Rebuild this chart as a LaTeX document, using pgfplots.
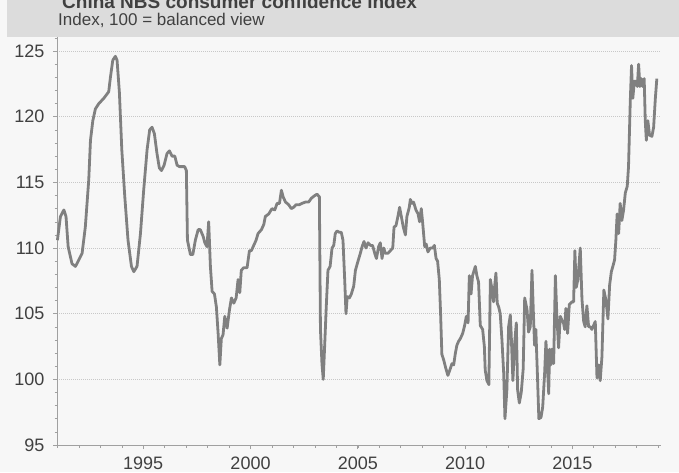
\documentclass[border=0pt]{standalone}
\usepackage{pgfplots}
\pgfplotsset{compat=1.18}
\usepackage{fontspec}
\setmainfont{Liberation Sans}
\definecolor{bgc}{RGB}{247,247,247}
\definecolor{bandc}{RGB}{220,220,220}
\definecolor{linec}{RGB}{128,128,128}
\definecolor{txtc}{RGB}{64,64,64}
\definecolor{gridc}{RGB}{200,200,200}
\definecolor{spinec}{RGB}{160,160,160}
\begin{document}
\begin{tikzpicture}[x=1pt,y=1pt]
\useasboundingbox (0,0) rectangle (679,472);
\clip (0,0) rectangle (679,472);
\fill[bgc] (0,0) rectangle (679,472);
\fill[bandc] (7,435) rectangle (679,472);
\node[anchor=base west, font=\fontsize{19}{22}\selectfont\bfseries, text=txtc, inner sep=0pt] at (62,463) {China NBS consumer confidence index};
\node[anchor=base west, font=\fontsize{17}{20}\selectfont, text=txtc, inner sep=0pt] at (58,446) {Index, 100 = balanced view};
\begin{axis}[
  at={(57pt,27pt)}, anchor=south west,
  scale only axis, width=603.7pt, height=408pt,
  xmin=1990.98, xmax=2019.12, ymin=95, ymax=126.07,
  axis lines*=left,
  axis line style={spinec, line width=0.8pt},
  xtick={1995,2000,2005,2010,2015},
  minor xtick={1991,1992,...,2019},
  ytick={95,100,...,125},
  minor ytick={95,96,...,126},
  tick align=outside,
  major tick length=4pt, minor tick length=2.5pt,
  tick style={spinec, line width=0.6pt},
  minor tick style={spinec, line width=0.5pt},
  ymajorgrids,
  major grid style={gridc, line width=0.8pt, dash pattern=on 0.8pt off 1.2pt},
  xticklabel style={/pgf/number format/1000 sep={}},
  /pgf/number format/assume math mode=true,
  ticklabel style={font=\fontsize{18}{20}\selectfont, text=txtc},
  xticklabel style={yshift=-4pt},
  yticklabel style={xshift=-5pt},
  clip=false,
]
\addplot[linec, line width=2.8pt, line join=round] table {
x y
1991.00 110.6
1991.14 112.4
1991.30 112.9
1991.40 112.4
1991.50 110.1
1991.68 108.8
1991.84 108.6
1992.00 109.1
1992.15 109.6
1992.30 111.6
1992.46 115.2
1992.54 118.2
1992.65 119.7
1992.77 120.6
1992.93 121.0
1993.16 121.4
1993.39 121.9
1993.47 123.0
1993.58 124.3
1993.70 124.6
1993.78 124.3
1993.89 121.8
1994.00 117.5
1994.14 113.9
1994.29 110.6
1994.45 108.6
1994.56 108.2
1994.71 108.6
1994.87 111.1
1995.02 114.4
1995.18 117.5
1995.30 119.0
1995.41 119.2
1995.52 118.7
1995.64 117.2
1995.75 116.1
1995.85 115.9
1995.97 116.3
1996.11 117.2
1996.22 117.4
1996.34 117.0
1996.47 117.0
1996.58 116.3
1996.69 116.2
1996.93 116.2
1997.01 115.9
1997.06 110.6
1997.20 109.5
1997.31 109.5
1997.43 110.6
1997.56 111.4
1997.66 111.4
1997.79 110.9
1997.87 110.4
1997.97 110.1
1998.05 112.0
1998.13 108.6
1998.21 106.7
1998.32 106.5
1998.41 105.5
1998.49 103.5
1998.57 101.1
1998.64 103.1
1998.72 103.4
1998.80 104.8
1998.91 103.9
1999.02 105.3
1999.11 106.2
1999.22 105.8
1999.33 106.2
1999.42 107.6
1999.50 106.6
1999.57 108.3
1999.68 108.5
1999.84 108.5
1999.95 109.8
2000.04 109.8
2000.15 110.2
2000.26 110.6
2000.35 111.1
2000.51 111.4
2000.62 111.8
2000.69 112.4
2000.85 112.6
2001.00 113.0
2001.13 112.9
2001.24 113.4
2001.35 113.4
2001.44 114.4
2001.52 113.9
2001.63 113.5
2001.78 113.3
2001.90 113.0
2002.01 113.1
2002.12 113.3
2002.28 113.3
2002.40 113.4
2002.56 113.5
2002.71 113.5
2002.84 113.8
2003.00 114.0
2003.10 114.1
2003.21 113.9
2003.26 103.8
2003.33 101.2
2003.39 100.0
2003.46 102.7
2003.53 105.5
2003.61 108.3
2003.71 108.6
2003.80 110.0
2003.88 110.2
2003.95 111.1
2004.03 111.3
2004.14 111.2
2004.23 111.2
2004.31 110.6
2004.39 107.6
2004.45 105.0
2004.51 106.3
2004.61 106.2
2004.70 106.5
2004.81 107.1
2004.89 108.3
2005.01 109.0
2005.12 109.6
2005.20 110.1
2005.29 110.5
2005.38 110.0
2005.48 110.4
2005.59 110.2
2005.69 110.2
2005.79 109.6
2005.87 109.2
2005.97 110.1
2006.05 110.4
2006.13 109.2
2006.21 110.0
2006.28 109.6
2006.41 109.6
2006.52 109.8
2006.63 110.0
2006.69 111.6
2006.78 111.7
2006.87 112.4
2006.95 113.1
2007.03 112.4
2007.12 111.6
2007.22 111.0
2007.29 112.4
2007.40 113.1
2007.45 113.7
2007.53 113.4
2007.60 113.5
2007.71 112.9
2007.81 112.6
2007.88 112.0
2007.96 113.0
2008.02 112.0
2008.12 110.1
2008.19 110.3
2008.27 109.7
2008.38 110.0
2008.49 110.0
2008.57 110.2
2008.65 109.2
2008.72 109.0
2008.80 107.6
2008.86 105.0
2008.92 101.9
2009.00 101.5
2009.11 100.8
2009.20 100.3
2009.31 100.8
2009.39 101.2
2009.47 101.1
2009.55 102.0
2009.62 102.6
2009.70 102.9
2009.78 103.1
2009.89 103.5
2009.98 104.1
2010.06 104.8
2010.14 104.3
2010.20 107.9
2010.28 106.5
2010.35 107.9
2010.48 108.6
2010.55 107.9
2010.63 107.4
2010.71 104.1
2010.82 103.8
2010.90 102.5
2010.94 100.7
2011.02 99.9
2011.11 99.6
2011.18 107.6
2011.25 106.9
2011.33 105.9
2011.38 107.1
2011.44 108.1
2011.50 105.8
2011.57 105.5
2011.64 105.0
2011.72 103.0
2011.80 100.5
2011.86 97.0
2011.95 99.2
2012.03 104.0
2012.11 104.9
2012.15 103.5
2012.23 99.9
2012.31 102.7
2012.39 104.3
2012.45 99.2
2012.53 98.2
2012.62 99.0
2012.71 100.8
2012.78 106.2
2012.89 105.3
2012.96 103.6
2013.04 104.0
2013.12 108.3
2013.18 105.3
2013.24 102.6
2013.30 103.8
2013.37 100.5
2013.44 97.0
2013.54 97.1
2013.62 97.9
2013.71 100.5
2013.77 102.9
2013.83 101.2
2013.90 98.9
2013.94 102.3
2014.00 101.1
2014.05 102.3
2014.13 101.2
2014.21 107.9
2014.28 104.8
2014.36 102.4
2014.44 104.8
2014.52 104.5
2014.59 104.3
2014.64 103.8
2014.70 105.4
2014.78 103.5
2014.86 105.7
2014.98 105.9
2015.06 105.9
2015.12 109.8
2015.18 107.0
2015.26 107.6
2015.37 110.0
2015.45 106.1
2015.53 104.4
2015.60 104.0
2015.68 105.6
2015.76 104.0
2015.84 104.0
2015.91 103.8
2015.99 104.1
2016.07 104.4
2016.15 100.1
2016.23 101.1
2016.30 99.9
2016.38 101.7
2016.47 106.8
2016.57 106.0
2016.66 104.6
2016.74 107.2
2016.82 108.2
2016.89 108.6
2016.97 109.1
2017.03 110.6
2017.09 112.6
2017.16 111.1
2017.23 113.4
2017.31 112.1
2017.39 112.9
2017.47 114.2
2017.56 114.7
2017.62 116.2
2017.70 121.1
2017.76 123.9
2017.82 121.4
2017.89 122.7
2017.96 122.7
2018.03 122.3
2018.09 124.0
2018.15 122.3
2018.21 122.9
2018.28 122.3
2018.35 122.9
2018.40 119.7
2018.45 118.2
2018.52 119.7
2018.60 118.6
2018.71 118.5
2018.79 119.2
2018.87 121.4
2018.94 122.9
};
\end{axis}
\end{tikzpicture}
\end{document}
